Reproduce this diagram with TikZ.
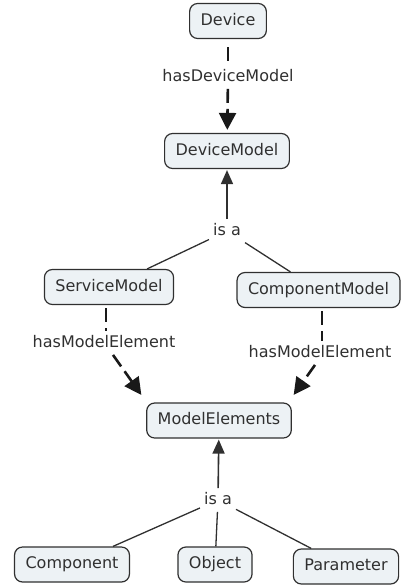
\documentclass[tikz,border=0pt]{standalone}
\usepackage{fontspec}
\setmainfont{DejaVu Sans}
\usetikzlibrary{arrows.meta}
\definecolor{boxfill}{HTML}{EDF2F5}
\definecolor{ink}{HTML}{303030}
\tikzset{
  concept/.style={draw=ink, fill=boxfill, rounded corners=8pt, line width=1.2pt,
    inner xsep=11pt, inner ysep=0pt, minimum height=35pt,
    text height=12pt, text depth=3.5pt, text=ink,
    font=\fontsize{16}{19}\selectfont},
  lbl/.style={inner sep=4pt, text=ink, text height=12pt, text depth=3.5pt,
    font=\fontsize{16}{19}\selectfont},
  isalink/.style={draw=ink, line width=1.3pt},
  isaarrow/.style={draw=ink, line width=1.6pt, shorten >=1pt,
    -{Triangle[width=12pt,length=14pt]}},
  relseg/.style={draw=black!90, line width=2.6pt, dash pattern=on 14pt off 6pt},
  relarrow/.style={relseg, shorten >=3pt,
    -{Triangle[width=17pt,length=17pt]}}
}
\begin{document}
\begin{tikzpicture}[x=1pt,y=-1pt]
  \useasboundingbox (0,0) rectangle (401,586);

  % concepts
  \node[concept] (dev)  at (228,21)    {Device};
  \node[concept] (dm)   at (227,151)   {DeviceModel};
  \node[concept] (sm)   at (109,287)   {ServiceModel};
  \node[concept] (cm)   at (318.5,290) {ComponentModel};
  \node[concept] (me)   at (219,420.5) {ModelElements};
  \node[concept] (comp) at (72,564.5)  {Component};
  \node[concept] (obj)  at (215,564.5) {Object};
  \node[concept] (par)  at (346,566.5) {Parameter};

  % linking phrases
  \node[lbl] (hdm)  at (228,77)  {hasDeviceModel};
  \node[lbl] (isa1) at (227,231) {is a};
  \node[lbl] (hme1) at (104,343) {hasModelElement};
  \node[lbl] (hme2) at (320,353) {hasModelElement};
  \node[lbl] (isa2) at (218,500) {is a};

  % Device -> DeviceModel
  \draw[relseg] ([yshift=-8pt]dev.south) -- (hdm);
  \draw[relarrow] (hdm) -- (dm);

  % specialisations of DeviceModel
  \draw[isaarrow] (isa1) -- (dm);
  \draw[isalink] (isa1) -- (sm);
  \draw[isalink] (isa1) -- (cm);

  % model element relations
  \draw[relseg] ([xshift=-3pt,yshift=-3pt]sm.south) -- ([xshift=2pt]hme1.north);
  \draw[relarrow] ([xshift=9pt]hme1.south) -- ([xshift=-3pt,yshift=5pt]me.north west);
  \draw[relseg] ([xshift=3.5pt,yshift=-3pt]cm.south) -- ([xshift=2pt]hme2.north);
  \draw[relarrow] ([xshift=-5pt]hme2.south) -- ([xshift=0pt,yshift=5pt]me.north east);

  % specialisations of ModelElements
  \draw[isaarrow] (isa2) -- (me);
  \draw[isalink] (isa2) -- (comp);
  \draw[isalink] (isa2) -- (obj);
  \draw[isalink] (isa2) -- (par);
\end{tikzpicture}
\end{document}
